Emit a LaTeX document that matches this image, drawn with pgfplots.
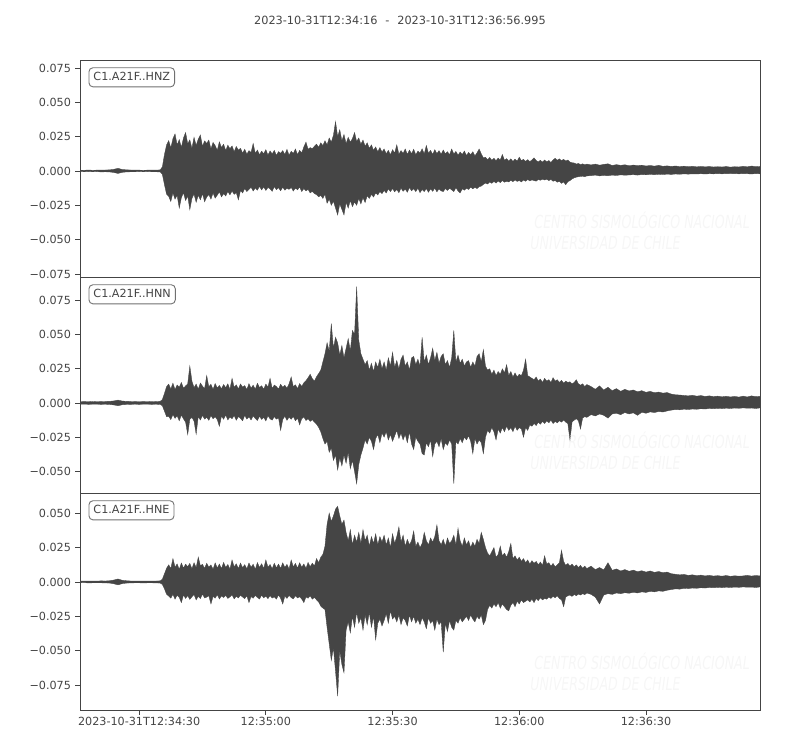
\documentclass[border=0pt]{standalone}
\usepackage{fontspec}
\setmainfont{DejaVu Sans}
\usepackage{pgfplots}
\usepackage{pgfplotstable}
\usepgfplotslibrary{fillbetween}
\pgfplotsset{compat=1.18}
\definecolor{wave}{HTML}{454545}
\definecolor{spine}{HTML}{444444}
\definecolor{txt}{HTML}{444444}
\definecolor{boxedge}{HTML}{707070}
\definecolor{wm}{HTML}{F6F6F6}

\pgfplotstableread{
t zu zl nu nl eu el
0 0.0006 -0.0005 0.0009 -0.0009 0.0006 -0.0006
1 0.0005 -0.0006 0.0010 -0.0008 0.0007 -0.0005
2 0.0007 -0.0005 0.0009 -0.0010 0.0006 -0.0007
3 0.0005 -0.0006 0.0011 -0.0009 0.0007 -0.0006
4 0.0006 -0.0005 0.0009 -0.0009 0.0006 -0.0006
5 0.0006 -0.0007 0.0010 -0.0010 0.0008 -0.0006
6 0.0007 -0.0006 0.0011 -0.0009 0.0007 -0.0007
7 0.0008 -0.0007 0.0012 -0.0011 0.0009 -0.0008
8 0.0012 -0.0011 0.0015 -0.0014 0.0014 -0.0013
9 0.0019 -0.0018 0.0021 -0.0020 0.0022 -0.0021
10 0.0011 -0.0010 0.0014 -0.0013 0.0012 -0.0012
11 0.0008 -0.0007 0.0012 -0.0011 0.0009 -0.0008
12 0.0007 -0.0006 0.0011 -0.0010 0.0007 -0.0007
13 0.0006 -0.0006 0.0010 -0.0009 0.0007 -0.0006
14 0.0006 -0.0005 0.0009 -0.0010 0.0006 -0.0006
15 0.0005 -0.0006 0.0010 -0.0009 0.0006 -0.0007
16 0.0006 -0.0005 0.0009 -0.0009 0.0007 -0.0006
17 0.0007 -0.0006 0.0011 -0.0010 0.0006 -0.0006
18 0.0006 -0.0006 0.0010 -0.0009 0.0007 -0.0007
19 0.0008 -0.0007 0.0012 -0.0011 0.0008 -0.0008
19.5 0.0030 -0.0025 0.0025 -0.0020 0.0020 -0.0018
20 0.0120 -0.0100 0.0070 -0.0060 0.0060 -0.0050
20.5 0.0190 -0.0170 0.0120 -0.0100 0.0100 -0.0090
21.0 0.0221 -0.0185 0.0138 -0.0098 0.0125 -0.0102
21.5 0.0168 -0.0222 0.0102 -0.0121 0.0097 -0.0118
22.0 0.0235 -0.0160 0.0145 -0.0085 0.0170 -0.0090
22.5 0.0270 -0.0205 0.0098 -0.0112 0.0108 -0.0125
23.0 0.0190 -0.0178 0.0132 -0.0094 0.0131 -0.0096
23.5 0.0228 -0.0270 0.0115 -0.0130 0.0092 -0.0112
24.0 0.0172 -0.0195 0.0150 -0.0088 0.0138 -0.0150
24.5 0.0240 -0.0158 0.0108 -0.0116 0.0101 -0.0094
25.0 0.0280 -0.0215 0.0125 -0.0140 0.0129 -0.0120
25.5 0.0198 -0.0182 0.0140 -0.0230 0.0112 -0.0099
26.0 0.0226 -0.0282 0.0270 -0.0120 0.0135 -0.0127
26.5 0.0165 -0.0200 0.0160 -0.0105 0.0096 -0.0108
27.0 0.0245 -0.0168 0.0112 -0.0132 0.0140 -0.0091
27.5 0.0186 -0.0228 0.0138 -0.0228 0.0105 -0.0130
28.0 0.0232 -0.0176 0.0101 -0.0098 0.0180 -0.0104
28.5 0.0262 -0.0210 0.0146 -0.0125 0.0118 -0.0121
29.0 0.0178 -0.0165 0.0123 -0.0090 0.0128 -0.0088
29.5 0.0219 -0.0224 0.0105 -0.0118 0.0099 -0.0116
30.0 0.0200 -0.0190 0.0200 -0.0104 0.0136 -0.0110
30.5 0.0225 -0.0172 0.0118 -0.0127 0.0108 -0.0100
31.0 0.0160 -0.0205 0.0137 -0.0092 0.0124 -0.0160
31.5 0.0208 -0.0160 0.0099 -0.0115 0.0093 -0.0105
32.0 0.0185 -0.0198 0.0142 -0.0100 0.0139 -0.0118
32.5 0.0150 -0.0176 0.0110 -0.0122 0.0102 -0.0092
33.0 0.0212 -0.0152 0.0128 -0.0170 0.0130 -0.0124
33.5 0.0170 -0.0189 0.0104 -0.0096 0.0097 -0.0101
34.0 0.0195 -0.0165 0.0135 -0.0119 0.0142 -0.0113
34.5 0.0148 -0.0182 0.0112 -0.0087 0.0106 -0.0097
35.0 0.0188 -0.0150 0.0140 -0.0124 0.0127 -0.0120
35.5 0.0162 -0.0174 0.0100 -0.0103 0.0094 -0.0108
36.0 0.0182 -0.0146 0.0180 -0.0115 0.0160 -0.0093
36.5 0.0140 -0.0170 0.0114 -0.0092 0.0110 -0.0123
37.0 0.0178 -0.0158 0.0133 -0.0126 0.0132 -0.0104
37.5 0.0152 -0.0210 0.0103 -0.0099 0.0098 -0.0116
38.0 0.0165 -0.0142 0.0139 -0.0112 0.0137 -0.0095
38.5 0.0130 -0.0160 0.0116 -0.0130 0.0104 -0.0110
39.0 0.0158 -0.0128 0.0127 -0.0090 0.0126 -0.0121
39.5 0.0122 -0.0150 0.0098 -0.0118 0.0095 -0.0100
40.0 0.0148 -0.0135 0.0141 -0.0101 0.0138 -0.0150
40.5 0.0135 -0.0118 0.0109 -0.0124 0.0107 -0.0106
41.0 0.0200 -0.0146 0.0130 -0.0094 0.0129 -0.0118
41.5 0.0128 -0.0124 0.0101 -0.0113 0.0092 -0.0098
42.0 0.0152 -0.0140 0.0144 -0.0128 0.0141 -0.0112
42.5 0.0118 -0.0112 0.0113 -0.0097 0.0105 -0.0124
43.0 0.0144 -0.0138 0.0126 -0.0120 0.0133 -0.0096
43.5 0.0126 -0.0116 0.0100 -0.0105 0.0098 -0.0115
44.0 0.0155 -0.0142 0.0138 -0.0131 0.0160 -0.0103
44.5 0.0116 -0.0120 0.0117 -0.0093 0.0108 -0.0121
45.0 0.0146 -0.0130 0.0180 -0.0116 0.0127 -0.0099
45.5 0.0124 -0.0148 0.0106 -0.0125 0.0096 -0.0117
46.0 0.0150 -0.0114 0.0131 -0.0100 0.0136 -0.0108
46.5 0.0113 -0.0136 0.0120 -0.0118 0.0103 -0.0125
47.0 0.0141 -0.0122 0.0102 -0.0108 0.0130 -0.0094
47.5 0.0129 -0.0144 0.0137 -0.0200 0.0099 -0.0119
48.0 0.0148 -0.0118 0.0115 -0.0121 0.0139 -0.0160
48.5 0.0120 -0.0140 0.0129 -0.0096 0.0106 -0.0102
49.0 0.0157 -0.0126 0.0108 -0.0127 0.0128 -0.0120
49.5 0.0115 -0.0134 0.0140 -0.0103 0.0094 -0.0097
50.0 0.0143 -0.0120 0.0190 -0.0119 0.0160 -0.0114
50.5 0.0127 -0.0146 0.0119 -0.0099 0.0109 -0.0123
51.0 0.0160 -0.0124 0.0133 -0.0130 0.0135 -0.0100
51.5 0.0119 -0.0138 0.0105 -0.0110 0.0101 -0.0116
52.0 0.0150 -0.0117 0.0142 -0.0160 0.0140 -0.0108
52.5 0.0132 -0.0150 0.0121 -0.0115 0.0107 -0.0124
53.0 0.0175 -0.0128 0.0148 -0.0102 0.0131 -0.0150
53.5 0.0210 -0.0145 0.0163 -0.0128 0.0099 -0.0109
54.0 0.0158 -0.0134 0.0185 -0.0115 0.0142 -0.0118
54.5 0.0170 -0.0160 0.0210 -0.0135 0.0111 -0.0101
55.0 0.0162 -0.0148 0.0178 -0.0122 0.0137 -0.0125
55.5 0.0180 -0.0165 0.0160 -0.0140 0.0116 -0.0112
56.0 0.0195 -0.0172 0.0192 -0.0155 0.0170 -0.0130
56.5 0.0172 -0.0188 0.0215 -0.0178 0.0140 -0.0145
57.0 0.0205 -0.0178 0.0240 -0.0210 0.0180 -0.0175
57.5 0.0185 -0.0200 0.0300 -0.0260 0.0200 -0.0190
58.0 0.0220 -0.0170 0.0360 -0.0300 0.0260 -0.0200
58.5 0.0190 -0.0235 0.0440 -0.0280 0.0420 -0.0330
59.0 0.0240 -0.0205 0.0380 -0.0360 0.0500 -0.0450
59.5 0.0210 -0.0250 0.0580 -0.0330 0.0440 -0.0570
60.0 0.0260 -0.0220 0.0400 -0.0420 0.0480 -0.0480
60.5 0.0360 -0.0270 0.0480 -0.0380 0.0530 -0.0650
61.0 0.0250 -0.0320 0.0440 -0.0490 0.0550 -0.0830
61.5 0.0300 -0.0240 0.0350 -0.0400 0.0480 -0.0500
62.0 0.0220 -0.0280 0.0420 -0.0460 0.0420 -0.0600
62.5 0.0265 -0.0320 0.0330 -0.0380 0.0450 -0.0660
63.0 0.0200 -0.0230 0.0400 -0.0440 0.0360 -0.0350
63.5 0.0245 -0.0270 0.0470 -0.0360 0.0300 -0.0290
64.0 0.0210 -0.0215 0.0380 -0.0480 0.0380 -0.0370
64.5 0.0235 -0.0260 0.0530 -0.0420 0.0270 -0.0250
65.0 0.0280 -0.0225 0.0500 -0.0500 0.0340 -0.0330
65.5 0.0215 -0.0250 0.0850 -0.0590 0.0290 -0.0220
66.0 0.0240 -0.0200 0.0460 -0.0450 0.0360 -0.0300
66.5 0.0195 -0.0240 0.0360 -0.0380 0.0280 -0.0260
67.0 0.0225 -0.0195 0.0320 -0.0330 0.0380 -0.0350
67.5 0.0180 -0.0230 0.0280 -0.0270 0.0300 -0.0240
68.0 0.0205 -0.0180 0.0310 -0.0300 0.0340 -0.0310
68.5 0.0165 -0.0200 0.0240 -0.0250 0.0260 -0.0220
69.0 0.0190 -0.0170 0.0290 -0.0280 0.0330 -0.0330
69.5 0.0150 -0.0190 0.0230 -0.0340 0.0280 -0.0250
70.0 0.0175 -0.0160 0.0300 -0.0260 0.0350 -0.0420
70.5 0.0140 -0.0175 0.0260 -0.0230 0.0270 -0.0300
71.0 0.0170 -0.0150 0.0320 -0.0290 0.0330 -0.0270
71.5 0.0138 -0.0165 0.0250 -0.0220 0.0290 -0.0320
72.0 0.0160 -0.0142 0.0300 -0.0250 0.0340 -0.0280
72.5 0.0125 -0.0160 0.0240 -0.0210 0.0270 -0.0230
73.0 0.0150 -0.0130 0.0330 -0.0270 0.0320 -0.0300
73.5 0.0118 -0.0150 0.0270 -0.0230 0.0250 -0.0210
74.0 0.0155 -0.0128 0.0370 -0.0280 0.0350 -0.0270
74.5 0.0130 -0.0152 0.0260 -0.0240 0.0280 -0.0250
75.0 0.0190 -0.0135 0.0310 -0.0200 0.0330 -0.0290
75.5 0.0122 -0.0158 0.0250 -0.0260 0.0400 -0.0240
76.0 0.0148 -0.0125 0.0320 -0.0220 0.0290 -0.0310
76.5 0.0128 -0.0148 0.0350 -0.0270 0.0340 -0.0260
77.0 0.0160 -0.0132 0.0270 -0.0230 0.0260 -0.0280
77.5 0.0120 -0.0155 0.0300 -0.0290 0.0310 -0.0320
78.0 0.0152 -0.0120 0.0240 -0.0210 0.0270 -0.0240
78.5 0.0125 -0.0145 0.0330 -0.0300 0.0300 -0.0290
79.0 0.0158 -0.0130 0.0340 -0.0340 0.0370 -0.0250
79.5 0.0118 -0.0150 0.0280 -0.0250 0.0260 -0.0300
80.0 0.0145 -0.0125 0.0320 -0.0280 0.0290 -0.0270
80.5 0.0130 -0.0158 0.0270 -0.0300 0.0250 -0.0310
81.0 0.0162 -0.0135 0.0480 -0.0370 0.0280 -0.0260
81.5 0.0124 -0.0150 0.0300 -0.0380 0.0360 -0.0290
82.0 0.0185 -0.0128 0.0350 -0.0290 0.0300 -0.0340
82.5 0.0128 -0.0155 0.0280 -0.0320 0.0270 -0.0260
83.0 0.0150 -0.0130 0.0330 -0.0270 0.0320 -0.0300
83.5 0.0120 -0.0148 0.0400 -0.0390 0.0290 -0.0280
84.0 0.0155 -0.0125 0.0310 -0.0300 0.0330 -0.0350
84.5 0.0126 -0.0152 0.0370 -0.0280 0.0415 -0.0270
85.0 0.0148 -0.0130 0.0290 -0.0320 0.0300 -0.0310
85.5 0.0122 -0.0145 0.0340 -0.0260 0.0270 -0.0290
86.0 0.0152 -0.0150 0.0360 -0.0340 0.0310 -0.0510
86.5 0.0125 -0.0128 0.0280 -0.0290 0.0260 -0.0300
87.0 0.0140 -0.0142 0.0310 -0.0310 0.0320 -0.0360
87.5 0.0118 -0.0125 0.0260 -0.0270 0.0280 -0.0280
88.0 0.0160 -0.0138 0.0330 -0.0300 0.0300 -0.0330
88.5 0.0124 -0.0150 0.0530 -0.0590 0.0340 -0.0350
89.0 0.0142 -0.0122 0.0300 -0.0280 0.0270 -0.0280
89.5 0.0115 -0.0145 0.0350 -0.0300 0.0390 -0.0300
90.0 0.0138 -0.0160 0.0290 -0.0260 0.0300 -0.0260
90.5 0.0120 -0.0130 0.0320 -0.0290 0.0260 -0.0290
91.0 0.0145 -0.0140 0.0270 -0.0250 0.0320 -0.0270
91.5 0.0112 -0.0125 0.0300 -0.0270 0.0270 -0.0250
92.0 0.0135 -0.0135 0.0310 -0.0240 0.0300 -0.0280
92.5 0.0118 -0.0118 0.0260 -0.0280 0.0250 -0.0240
93.0 0.0140 -0.0130 0.0300 -0.0370 0.0290 -0.0270
93.5 0.0110 -0.0120 0.0270 -0.0260 0.0260 -0.0290
94.0 0.0132 -0.0128 0.0340 -0.0300 0.0310 -0.0250
94.5 0.0160 -0.0115 0.0360 -0.0270 0.0280 -0.0270
95.0 0.0125 -0.0110 0.0300 -0.0290 0.0360 -0.0240
95.5 0.0095 -0.0098 0.0390 -0.0370 0.0310 -0.0310
96.0 0.0100 -0.0088 0.0270 -0.0250 0.0250 -0.0280
96.5 0.0082 -0.0095 0.0240 -0.0200 0.0210 -0.0200
97.0 0.0098 -0.0080 0.0250 -0.0220 0.0190 -0.0170
97.5 0.0078 -0.0090 0.0210 -0.0180 0.0220 -0.0190
98.0 0.0092 -0.0076 0.0240 -0.0210 0.0250 -0.0160
98.5 0.0075 -0.0088 0.0200 -0.0270 0.0180 -0.0180
99.0 0.0094 -0.0072 0.0230 -0.0190 0.0200 -0.0150
99.5 0.0080 -0.0085 0.0210 -0.0220 0.0260 -0.0190
100.0 0.0120 -0.0070 0.0250 -0.0180 0.0190 -0.0160
100.5 0.0078 -0.0082 0.0220 -0.0210 0.0210 -0.0180
101.0 0.0090 -0.0075 0.0280 -0.0170 0.0180 -0.0200
101.5 0.0072 -0.0080 0.0200 -0.0200 0.0220 -0.0210
102.0 0.0088 -0.0068 0.0230 -0.0180 0.0280 -0.0170
102.5 0.0070 -0.0078 0.0190 -0.0210 0.0170 -0.0150
103.0 0.0086 -0.0065 0.0220 -0.0170 0.0190 -0.0180
103.5 0.0072 -0.0076 0.0190 -0.0200 0.0160 -0.0140
104.0 0.0100 -0.0070 0.0210 -0.0180 0.0180 -0.0160
104.5 0.0075 -0.0080 0.0200 -0.0190 0.0150 -0.0130
105.0 0.0085 -0.0066 0.0240 -0.0250 0.0170 -0.0150
105.5 0.0070 -0.0075 0.0320 -0.0180 0.0140 -0.0140
106.0 0.0082 -0.0062 0.0200 -0.0200 0.0160 -0.0130
106.5 0.0068 -0.0072 0.0190 -0.0160 0.0130 -0.0145
107.0 0.0080 -0.0065 0.0180 -0.0170 0.0155 -0.0125
107.5 0.0095 -0.0070 0.0170 -0.0150 0.0135 -0.0150
108.0 0.0076 -0.0074 0.0190 -0.0165 0.0150 -0.0120
108.5 0.0066 -0.0062 0.0160 -0.0140 0.0125 -0.0135
109.0 0.0078 -0.0068 0.0175 -0.0155 0.0145 -0.0115
109.5 0.0064 -0.0060 0.0150 -0.0135 0.0120 -0.0130
110.0 0.0080 -0.0066 0.0180 -0.0150 0.0190 -0.0120
110.5 0.0066 -0.0060 0.0160 -0.0130 0.0130 -0.0125
111.0 0.0076 -0.0070 0.0170 -0.0145 0.0140 -0.0110
111.5 0.0062 -0.0062 0.0150 -0.0125 0.0115 -0.0120
112.0 0.0080 -0.0075 0.0185 -0.0150 0.0135 -0.0105
112.5 0.0092 -0.0070 0.0160 -0.0135 0.0110 -0.0115
113.0 0.0078 -0.0082 0.0170 -0.0145 0.0125 -0.0100
113.5 0.0088 -0.0075 0.0150 -0.0130 0.0140 -0.0120
114.0 0.0075 -0.0090 0.0165 -0.0140 0.0230 -0.0130
114.5 0.0085 -0.0080 0.0145 -0.0125 0.0150 -0.0180
115.0 0.0072 -0.0100 0.0160 -0.0140 0.0120 -0.0110
115.5 0.0080 -0.0078 0.0150 -0.0150 0.0135 -0.0100
116.0 0.0065 -0.0070 0.0155 -0.0270 0.0115 -0.0095
116.5 0.0060 -0.0058 0.0140 -0.0140 0.0130 -0.0105
117.0 0.0058 -0.0050 0.0150 -0.0125 0.0110 -0.0090
117.5 0.0050 -0.0045 0.0170 -0.0115 0.0125 -0.0100
118.0 0.0055 -0.0042 0.0140 -0.0130 0.0105 -0.0088
118.5 0.0046 -0.0040 0.0130 -0.0190 0.0120 -0.0095
119.0 0.0052 -0.0038 0.0140 -0.0110 0.0100 -0.0085
119.5 0.0045 -0.0042 0.0120 -0.0100 0.0115 -0.0092
120.0 0.0050 -0.0036 0.0135 -0.0105 0.0098 -0.0080
121 0.0044 -0.0034 0.0120 -0.0085 0.0115 -0.0090
122 0.0050 -0.0030 0.0100 -0.0095 0.0090 -0.0110
123 0.0042 -0.0036 0.0125 -0.0080 0.0105 -0.0160
124 0.0048 -0.0032 0.0095 -0.0090 0.0088 -0.0095
125 0.0052 -0.0035 0.0115 -0.0110 0.0140 -0.0085
126 0.0040 -0.0030 0.0090 -0.0080 0.0085 -0.0090
127 0.0046 -0.0033 0.0105 -0.0075 0.0095 -0.0080
128 0.0041 -0.0028 0.0085 -0.0085 0.0080 -0.0085
129 0.0045 -0.0031 0.0100 -0.0070 0.0090 -0.0078
130 0.0038 -0.0029 0.0088 -0.0080 0.0078 -0.0082
131 0.0043 -0.0027 0.0095 -0.0072 0.0086 -0.0075
132 0.0039 -0.0030 0.0082 -0.0090 0.0075 -0.0080
133 0.0042 -0.0026 0.0090 -0.0068 0.0082 -0.0072
134 0.0036 -0.0028 0.0078 -0.0075 0.0072 -0.0076
135 0.0040 -0.0025 0.0085 -0.0065 0.0080 -0.0068
136 0.0035 -0.0027 0.0075 -0.0070 0.0070 -0.0072
137 0.0041 -0.0024 0.0080 -0.0062 0.0076 -0.0065
138 0.0034 -0.0026 0.0072 -0.0066 0.0068 -0.0068
139 0.0037 -0.0023 0.0076 -0.0058 0.0072 -0.0060
140 0.0033 -0.0025 0.0065 -0.0052 0.0060 -0.0055
141 0.0036 -0.0022 0.0060 -0.0048 0.0056 -0.0050
142 0.0032 -0.0024 0.0058 -0.0050 0.0052 -0.0052
143 0.0035 -0.0021 0.0055 -0.0045 0.0055 -0.0046
144 0.0031 -0.0023 0.0052 -0.0048 0.0048 -0.0048
145 0.0034 -0.0021 0.0056 -0.0044 0.0052 -0.0044
146 0.0030 -0.0022 0.0050 -0.0046 0.0046 -0.0046
147 0.0033 -0.0020 0.0054 -0.0042 0.0050 -0.0042
148 0.0030 -0.0022 0.0048 -0.0044 0.0044 -0.0044
149 0.0032 -0.0020 0.0052 -0.0040 0.0048 -0.0040
150 0.0029 -0.0021 0.0047 -0.0042 0.0043 -0.0042
151 0.0031 -0.0019 0.0050 -0.0039 0.0046 -0.0039
152 0.0029 -0.0021 0.0045 -0.0041 0.0042 -0.0041
153 0.0032 -0.0019 0.0049 -0.0038 0.0047 -0.0038
154 0.0028 -0.0020 0.0044 -0.0040 0.0041 -0.0040
155 0.0031 -0.0019 0.0048 -0.0037 0.0045 -0.0037
156 0.0029 -0.0021 0.0043 -0.0039 0.0042 -0.0039
157 0.0034 -0.0019 0.0050 -0.0036 0.0044 -0.0036
158 0.0030 -0.0020 0.0044 -0.0038 0.0048 -0.0038
159 0.0036 -0.0022 0.0052 -0.0037 0.0043 -0.0037
160 0.0031 -0.0019 0.0046 -0.0040 0.0047 -0.0040
161 0.0033 -0.0021 0.0049 -0.0036 0.0044 -0.0036
}\seis

\pgfplotsset{
  panel/.style={
    scale only axis, width=680pt,
    xmin=0, xmax=160.995,
    scaled y ticks=false, scaled x ticks=false,
    axis line style={spine, line width=0.8pt},
    tick style={spine, line width=0.8pt},
    tick align=outside, major tick length=5pt,
    ytick pos=left, xtick pos=bottom,
    tick label style={font=\fontsize{11.2}{13}\selectfont, text=txt},
    yticklabel style={xshift=-0.5pt},
    xticklabel style={yshift=1pt},
  },
  wavefill/.style={draw=wave, line width=0.35pt},
}

\newcommand{\watermark}[1]{%
  \node[wm, font=\fontsize{18}{20}\selectfont\itshape, xscale=0.7, anchor=base west] at (532,#1) {CENTRO SISMOLÓGICO NACIONAL};
  \node[wm, font=\fontsize{18}{20}\selectfont\itshape, xscale=0.7, anchor=base west] at (528,#1-21) {UNIVERSIDAD DE CHILE};
}

\begin{document}
\begin{tikzpicture}[x=1pt,y=1pt]
\path (0,0) rectangle (800,750);
\watermark{521}
\watermark{301}
\watermark{81}

\node[text=txt, font=\fontsize{11.3}{13}\selectfont] at (400,730) {2023-10-31T12:34:16\hspace{0.7em}-\hspace{0.7em}2023-10-31T12:36:56.995};

% Z component
\begin{axis}[panel, at={(80pt,473pt)}, anchor=south west, height=217pt,
  ymin=-0.0772, ymax=0.0808, xtick=\empty,
  ytick={-0.075,-0.05,-0.025,0,0.025,0.05,0.075},
  yticklabels={−0.075,−0.050,−0.025,0.000,0.025,0.050,0.075}]
  \addplot[wavefill, name path=zu] table[x=t, y=zu] {\seis};
  \addplot[wavefill, name path=zl] table[x=t, y=zl] {\seis};
  \addplot[wave] fill between[of=zu and zl];
\end{axis}

% N component
\begin{axis}[panel, at={(80pt,257pt)}, anchor=south west, height=216pt,
  ymin=-0.0658, ymax=0.0921, xtick=\empty,
  ytick={-0.05,-0.025,0,0.025,0.05,0.075},
  yticklabels={−0.050,−0.025,0.000,0.025,0.050,0.075}]
  \addplot[wavefill, name path=nu] table[x=t, y=nu] {\seis};
  \addplot[wavefill, name path=nl] table[x=t, y=nl] {\seis};
  \addplot[wave] fill between[of=nu and nl];
\end{axis}

% E component
\begin{axis}[panel, at={(80pt,40pt)}, anchor=south west, height=217pt,
  ymin=-0.0931, ymax=0.0647,
  ytick={-0.075,-0.05,-0.025,0,0.025,0.05},
  yticklabels={−0.075,−0.050,−0.025,0.000,0.025,0.050},
  xtick={14,44,74,104,134},
  xticklabels={2023-10-31T12:34:30,12:35:00,12:35:30,12:36:00,12:36:30}]
  \addplot[wavefill, name path=eu] table[x=t, y=eu] {\seis};
  \addplot[wavefill, name path=el] table[x=t, y=el] {\seis};
  \addplot[wave] fill between[of=eu and el];
\end{axis}

\foreach \yy/\lab in {682.7/HNZ, 465.7/HNN, 249.7/HNE}{
  \node[anchor=north west, draw=boxedge, line width=0.9pt, rounded corners=4pt,
        fill=white, text=txt, inner xsep=4.5pt, inner ysep=3.8pt,
        text height=9pt, text depth=2.5pt,
        font=\fontsize{11.2}{13}\selectfont] at (88.5,\yy) {C1.A21F..\lab};
}
\end{tikzpicture}
\end{document}
